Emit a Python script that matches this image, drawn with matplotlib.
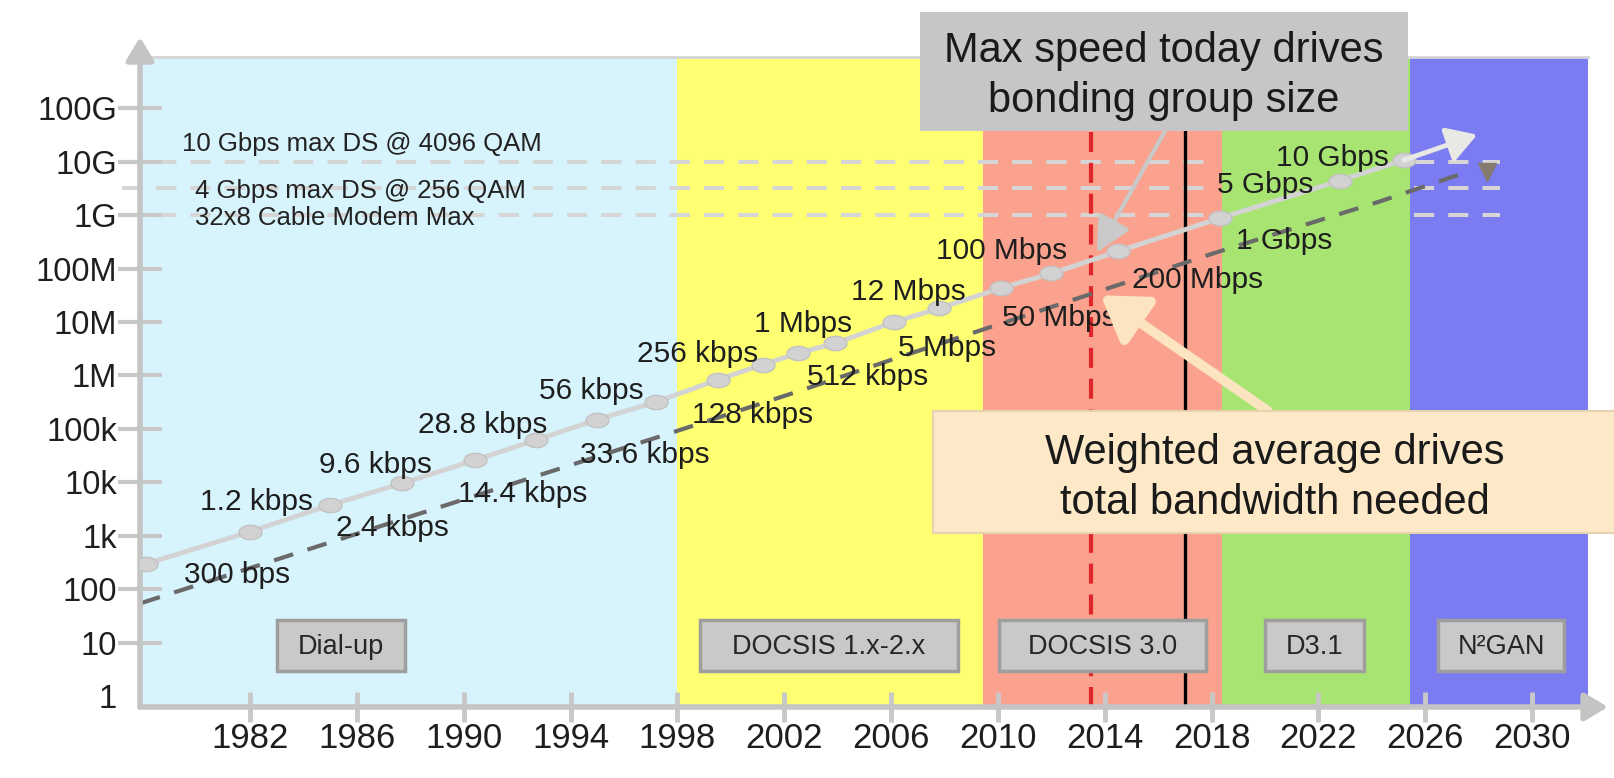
import numpy as np
import matplotlib
matplotlib.use('Agg')
import matplotlib.pyplot as plt
from matplotlib.patches import Rectangle
from matplotlib.path import Path

plt.rcParams['font.family'] = ['Liberation Sans', 'DejaVu Sans']

# technology eras (years)
phase_names = ['Dial-up', 'DOCSIS 1.x-2.x', 'DOCSIS 3.0', 'D3.1', 'N\u00b2GAN']
phase_start = [1977.87, 1998.0, 2009.45, 2018.4, 2025.45]
phase_end = [1998.0, 2009.45, 2018.4, 2025.45, 2032.1]
phase_colors = ['#d7f4fc', '#ffff72', '#faa28e', '#a8e472', '#7b7bf2']
# label box extent per era (years)
phase_box_x0 = [1983.0, 1998.85, 2010.05, 2020.0, 2026.5]
phase_box_x1 = [1987.8, 2008.5, 2017.8, 2023.7, 2031.2]

# max speed offered (bps)
max_years = [1978.1, 1982.0, 1985.0, 1987.7, 1990.4, 1992.7, 1995.0, 1997.2, 1999.5, 2001.2,
             2002.5, 2003.9, 2006.1, 2007.8, 2010.1, 2012.0, 2014.5, 2018.3, 2022.8, 2025.2]
max_bps = [300, 1.2e3, 3.8e3, 9.6e3, 2.6e4, 6.2e4, 1.5e5, 3.2e5, 8.3e5, 1.6e6,
           2.6e6, 4.0e6, 1.0e7, 1.8e7, 4.3e7, 8.1e7, 2.1e8, 8.7e8, 4.4e9, 1.07e10]
max_arrow_year, max_arrow_bps = 2027.95, 3.2e10

# weighted average speed (bps)
avg_years = [1977.9, 1997.9, 2002.5, 2006.3, 2013.6, 2018.1, 2024.3, 2027.6]
avg_bps = [55, 8.9e4, 5.0e5, 2.2e6, 3.5e7, 1.95e8, 1.8e9, 6.5e9]
avg_end_year, avg_end_bps = 2028.33, 6.5e9

max_label_text = ['1.2 kbps', '9.6 kbps', '28.8 kbps', '56 kbps', '256 kbps', '1 Mbps',
                  '12 Mbps', '100 Mbps', '5 Gbps', '10 Gbps']
max_label_year = [1982.24, 1986.70, 1990.72, 1994.77, 1998.76, 2002.71, 2006.64, 2010.15, 2020.02, 2022.53]
max_label_bps = [4.9e3, 2.4e4, 1.35e5, 5.8e5, 2.9e6, 1.05e7, 4.2e7, 2.45e8, 4.1e9, 1.35e10]

avg_label_text = ['300 bps', '2.4 kbps', '14.4 kbps', '33.6 kbps', '128 kbps', '512 kbps',
                  '5 Mbps', '50 Mbps', '200 Mbps', '1 Gbps']
avg_label_year = [1981.52, 1987.33, 1992.22, 1996.79, 2000.83, 2005.12, 2008.10, 2012.30, 2017.46, 2020.73]
avg_label_bps = [209, 1.6e3, 6.9e3, 3.7e4, 2.1e5, 1.07e6, 3.7e6, 1.35e7, 7.1e7, 3.7e8]

# capacity reference lines
ref_bps = [1e10, 3.2e9, 1e9]
ref_text = ['10 Gbps max DS @ 4096 QAM', '4 Gbps max DS @ 256 QAM', '32x8 Cable Modem Max']
ref_text_year = [1979.45, 1979.93, 1979.93]
ref_text_bps = [2.4e10, 3.2e9, 1.0e9]
ref_spans = [(1977.2, 2017.8), (2025.6, 2028.8)]

today_year = 2013.5
now_year = 2017.0

xticks = list(range(1982, 2031, 4))
yticks = [10.0 ** k for k in range(12)]
ylabels = ['1', '10', '100', '1k', '10k', '100k', '1M', '10M', '100M', '1G', '10G', '100G']

W, H = 1615, 778
fig = plt.figure(figsize=(W / 100, H / 100), dpi=100)
ax = fig.add_axes([140 / W, 71 / H, 1448 / W, 650.4 / H])
ax.set_yscale('log')
ax.set_xlim(1977.87, 2032.1)
ax.set_ylim(10 ** -0.202, 10 ** 11.966)
for s in ax.spines.values():
    s.set_visible(False)

for x0, x1, c in zip(phase_start, phase_end, phase_colors):
    ax.axvspan(x0, x1, color=c, lw=0, zorder=0)
ax.plot([0, 1], [1, 1], transform=ax.transAxes, color='#d4d4d4', lw=2, clip_on=False, zorder=0.5)

# reference lines and their labels
for y in ref_bps:
    for a, b in ref_spans:
        ax.plot([a, b], [y, y], color='#d6d6d6', lw=2.9, ls=(0, (5, 3.5)),
                clip_on=False, zorder=1)
for t, xx, yy in zip(ref_text, ref_text_year, ref_text_bps):
    ax.text(xx, yy, t, fontsize=18.5, color='#222222', ha='left', va='center_baseline', zorder=5)

ax.axvline(today_year, color='#e0262a', lw=3, ls=(0, (4.8, 2.6)), zorder=2)
ax.axvline(now_year, color='black', lw=2.4, zorder=2)

# weighted average (dashed)
ax.plot(avg_years, avg_bps, color='#6a6a6a', lw=3, dashes=(4.8, 3.6), zorder=3)
ax.plot(avg_end_year, avg_end_bps, marker='v', ms=13, color='#857a6e', zorder=3)

# max speed (solid with oval markers)
th = np.linspace(0, 2 * np.pi, 41)
oval = Path(np.column_stack([1.6 * np.cos(th), np.sin(th)]), closed=True)
ax.plot(max_years, max_bps, color='#d3d3d3', lw=3.5, marker=oval, ms=16.5,
        mfc='#d2d2d2', mec='#c2c2c2', mew=1, zorder=4)
ax.annotate('', xy=(max_arrow_year, max_arrow_bps), xytext=(max_years[-1], max_bps[-1]),
            arrowprops=dict(arrowstyle='-|>,head_length=1.0,head_width=0.6', mutation_scale=18,
                            color='#e8e8e4', lw=3.5, shrinkA=0, shrinkB=0), zorder=4)

for t, xx, yy in zip(max_label_text, max_label_year, max_label_bps):
    ax.text(xx, yy, t, fontsize=21.5, color='#1e1e1e', ha='center', va='center_baseline', zorder=5)
for t, xx, yy in zip(avg_label_text, avg_label_year, avg_label_bps):
    ax.text(xx, yy, t, fontsize=21.5, color='#1e1e1e', ha='center', va='center_baseline', zorder=5)

# era label boxes
by0, by1 = 10 ** 0.47, 10 ** 1.43
for name, x0, x1 in zip(phase_names, phase_box_x0, phase_box_x1):
    ax.add_patch(Rectangle((x0, by0), x1 - x0, by1 - by0, facecolor='#c9c9c9',
                           edgecolor='#9e9e9e', lw=2.5, zorder=6))
    ax.text((x0 + x1) / 2, 10 ** 0.92, name, fontsize=19.5, color='#262626',
            ha='center', va='center', zorder=7)

# axes with arrow heads
arrow_kw = dict(arrowstyle='-|>,head_length=1.0,head_width=0.6', mutation_scale=14,
                color='#c4c4c4', lw=4, shrinkA=0, shrinkB=0)
ax.annotate('', xy=(0, 1.030), xytext=(0, 0), xycoords='axes fraction',
            arrowprops=arrow_kw, annotation_clip=False, zorder=3)
ax.annotate('', xy=(1.0138, 0), xytext=(0, 0), xycoords='axes fraction',
            arrowprops=arrow_kw, annotation_clip=False, zorder=3)

ax.set_xticks(xticks)
ax.set_xticklabels([str(v) for v in xticks])
ax.set_yticks(yticks)
ax.set_yticklabels(ylabels)
ax.minorticks_off()
ax.tick_params(axis='y', direction='inout', length=31, width=3, color='#c8c8c8', pad=1,
               labelsize=23.5, labelcolor='#1e1e1e')
ax.tick_params(axis='x', direction='inout', length=22, width=3.5, color='#c8c8c8', pad=0,
               labelsize=25, labelcolor='#1e1e1e')
ax.yaxis.get_major_ticks()[0].tick1line.set_visible(False)

# callout arrows
ax.annotate('', xy=(2013.7, 10 ** 8.3), xytext=(1165, H - 131), textcoords='figure pixels',
            arrowprops=dict(arrowstyle='-|>,head_length=1.2,head_width=0.6', mutation_scale=18,
                            color='#c9c9c9', lw=3, shrinkA=0, shrinkB=0),
            annotation_clip=False, zorder=8)
ax.annotate('', xy=(2013.85, 10 ** 7.5), xytext=(1268, H - 411), textcoords='figure pixels',
            arrowprops=dict(arrowstyle='-|>,head_length=1.0,head_width=0.65', mutation_scale=26,
                            color='#fbe4bf', lw=7, shrinkA=0, shrinkB=0),
            annotation_clip=False, zorder=8)

# callout boxes
fig.add_artist(Rectangle((920 / W, (H - 131) / H), 488 / W, 119 / H, transform=fig.transFigure,
                         facecolor='#c6c6c6', edgecolor='none', zorder=5))
fig.text(1164 / W, 1 - 76 / H, 'Max speed today drives\nbonding group size', fontsize=30,
         color='#1a1a1a', ha='center', va='center', linespacing=1.35, zorder=6)
fig.add_artist(Rectangle((933 / W, (H - 533) / H), 682 / W, 122 / H, transform=fig.transFigure,
                         facecolor='#fde9c8', edgecolor='#e6d2ae', lw=1.5, zorder=5))
fig.text(1275 / W, 1 - 478 / H, 'Weighted average drives\ntotal bandwidth needed', fontsize=30,
         color='#1a1a1a', ha='center', va='center', linespacing=1.35, zorder=6)

fig.savefig('out.png', dpi=100)
